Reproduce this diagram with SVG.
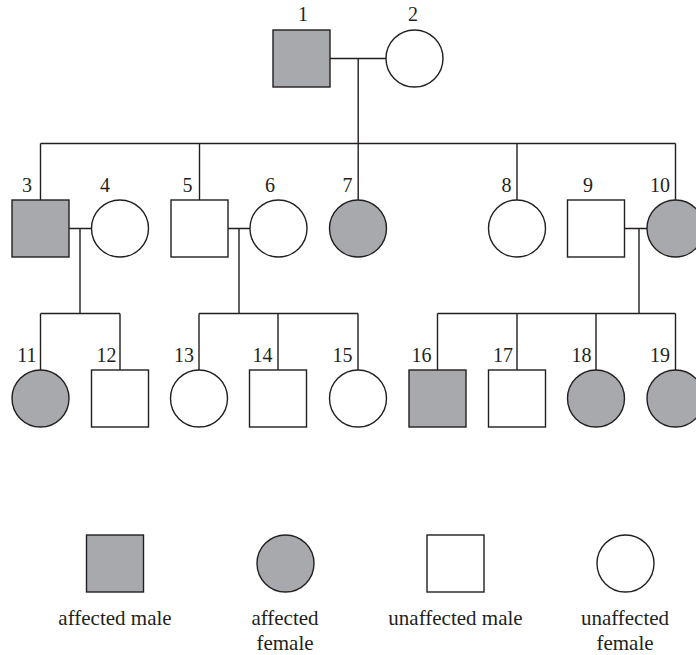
<svg xmlns="http://www.w3.org/2000/svg" width="696" height="655" viewBox="0 0 696 655">
<style>
.n{stroke:#231f20;stroke-width:1.4;}
.a{fill:#a7a9ac;}
.u{fill:#ffffff;}
.l{fill:none;stroke:#231f20;stroke-width:1.4;}
.d{font-size:20px;}
.g{font-size:21px;}
</style>
<rect width="696" height="655" fill="#ffffff"/>
<g id="connectors" class="l">
<path d="M330 58.5H386M358.2 58.5V200M40.5 143.5H675.5M40.5 143.5V200M199.5 143.5V200M517 143.5V200M675.5 143.5V200"/>
<path d="M69 228.5H91.5M80 228.5V313.5M40.5 313.5H120M40.5 313.5V370M120 313.5V370"/>
<path d="M228 228.5H250M239 228.5V313.5M199 313.5H358M199 313.5V370M278 313.5V370M358 313.5V370"/>
<path d="M624.5 228.5H647M639 228.5V313.5M437.5 313.5H675.5M437.5 313.5V370M517 313.5V370M596 313.5V370M675.5 313.5V370"/>
</g>
<g id="nodes" font-family="Liberation Serif, Times New Roman, Times, serif" fill="#231f20" text-anchor="middle">
<g id="n1"><rect class="n a" x="273" y="30" width="57" height="57"/><text class="d" x="303" y="21">1</text></g>
<g id="n2"><circle class="n u" cx="414.5" cy="58.5" r="28.5"/><text class="d" x="413" y="21">2</text></g>
<g id="n3"><rect class="n a" x="12" y="200" width="57" height="57"/><text class="d" x="27" y="192">3</text></g>
<g id="n4"><circle class="n u" cx="120" cy="228.5" r="28.5"/><text class="d" x="105" y="192">4</text></g>
<g id="n5"><rect class="n u" x="171" y="200" width="57" height="57"/><text class="d" x="187.5" y="192">5</text></g>
<g id="n6"><circle class="n u" cx="278.5" cy="228.5" r="28.5"/><text class="d" x="270" y="192">6</text></g>
<g id="n7"><circle class="n a" cx="358" cy="228.5" r="28.5"/><text class="d" x="347.5" y="192">7</text></g>
<g id="n8"><circle class="n u" cx="517" cy="228.5" r="28.5"/><text class="d" x="506.5" y="192">8</text></g>
<g id="n9"><rect class="n u" x="567.5" y="200" width="57" height="57"/><text class="d" x="588" y="192">9</text></g>
<g id="n10"><circle class="n a" cx="675.5" cy="228.5" r="28.5"/><text class="d" x="660" y="192">10</text></g>
<g id="n11"><circle class="n a" cx="40.5" cy="398.5" r="28.5"/><text class="d" x="27" y="362">11</text></g>
<g id="n12"><rect class="n u" x="91.5" y="370" width="57" height="57"/><text class="d" x="106.5" y="362">12</text></g>
<g id="n13"><circle class="n u" cx="199" cy="398.5" r="28.5"/><text class="d" x="184" y="362">13</text></g>
<g id="n14"><rect class="n u" x="249.5" y="370" width="57" height="57"/><text class="d" x="262.5" y="362">14</text></g>
<g id="n15"><circle class="n u" cx="358" cy="398.5" r="28.5"/><text class="d" x="342.5" y="362">15</text></g>
<g id="n16"><rect class="n a" x="409" y="370" width="57" height="57"/><text class="d" x="421.5" y="362">16</text></g>
<g id="n17"><rect class="n u" x="488.5" y="370" width="57" height="57"/><text class="d" x="503" y="362">17</text></g>
<g id="n18"><circle class="n a" cx="596" cy="398.5" r="28.5"/><text class="d" x="581.5" y="362">18</text></g>
<g id="n19"><circle class="n a" cx="675.5" cy="398.5" r="28.5"/><text class="d" x="660" y="362">19</text></g>
<g id="legend-affected-male"><rect class="n a" x="86.5" y="535" width="57" height="57"/><text class="g" x="115" y="625">affected male</text></g>
<g id="legend-affected-female"><circle class="n a" cx="285.5" cy="563.5" r="28.5"/><text class="g" x="285" y="625">affected</text><text class="g" x="285" y="650">female</text></g>
<g id="legend-unaffected-male"><rect class="n u" x="427" y="535" width="57" height="57"/><text class="g" x="455.5" y="625">unaffected male</text></g>
<g id="legend-unaffected-female"><circle class="n u" cx="625.5" cy="563.5" r="28.5"/><text class="g" x="625" y="625">unaffected</text><text class="g" x="625" y="650">female</text></g>
</g>
</svg>
